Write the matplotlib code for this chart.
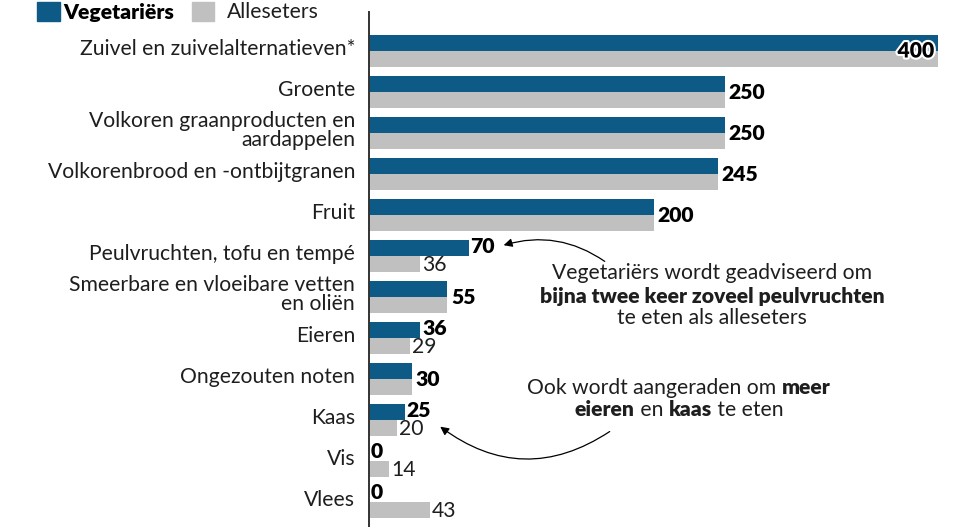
import matplotlib.pyplot as plt
import matplotlib.patheffects as pe
from matplotlib.patches import FancyArrowPatch

plt.rcParams["font.family"] = ["Lato", "DejaVu Sans"]

CATEGORIES = [
    "Zuivel en zuivelalternatieven*",
    "Groente",
    "Volkoren graanproducten en\naardappelen",
    "Volkorenbrood en -ontbijtgranen",
    "Fruit",
    "Peulvruchten, tofu en tempé",
    "Smeerbare en vloeibare vetten\nen oliën",
    "Eieren",
    "Ongezouten noten",
    "Kaas",
    "Vis",
    "Vlees",
]
VEGETARIERS = [400, 250, 250, 245, 200, 70, 55, 36, 30, 25, 0, 0]
ALLESETERS = [400, 250, 250, 245, 200, 36, 55, 29, 30, 20, 14, 43]

BLUE = "#0d5a86"
GREY = "#c0c0c0"
INK = "#1e1e1e"
FS = 15.2

W, H = 966, 527
fig = plt.figure(figsize=(W / 100, H / 100), dpi=100)
fig.patch.set_facecolor("white")

# axes: left edge at x=369 px, top at y=12 px
ax = fig.add_axes([369 / W, 0, (W - 369) / W, (H - 12) / H])
unit = (938 - 369) / 400  # pixels per value unit
ax.set_xlim(0, (W - 369) / unit)
ax.set_ylim((527 - 51) / 41, (12 - 51) / 41)

bh = 0.4
ys = list(range(len(CATEGORIES)))
ax.barh([y - bh / 2 for y in ys], VEGETARIERS, height=bh, color=BLUE, linewidth=0)
ax.barh([y + bh / 2 for y in ys], ALLESETERS, height=bh, color=GREY, linewidth=0)

for s in ["top", "right", "bottom"]:
    ax.spines[s].set_visible(False)
ax.spines["left"].set_color("#333333")
ax.spines["left"].set_linewidth(1.4)
ax.set_xticks([])
ax.set_yticks([y - 0.1 for y in ys])
ax.set_yticklabels(CATEGORIES, fontsize=FS, color=INK, linespacing=0.92)
ax.tick_params(axis="y", length=0, pad=10)

off = 4 / unit
for y, v, a in zip(ys, VEGETARIERS, ALLESETERS):
    if v == a:
        if v == max(VEGETARIERS):
            ax.text(v - off, y, str(v), ha="right", va="center", fontsize=FS,
                    fontweight="heavy", color="black",
                    path_effects=[pe.withStroke(linewidth=3, foreground="white")])
        else:
            ax.text(v + off, y, str(v), ha="left", va="center", fontsize=FS,
                    fontweight="heavy", color="black")
    else:
        ax.text(v + off * 0.5, y - bh / 2 - 0.02, str(v), ha="left", va="center",
                fontsize=FS, fontweight="heavy", color="black")
        ax.text(a + off * 0.5, y + bh / 2 + 0.02, str(a), ha="left", va="center",
                fontsize=FS, color=INK)


def px(x, y):
    # figure pixel coordinates (origin top-left) to figure fraction
    return x / W, 1 - y / H


def rich_line(parts, cx, cy):
    renderer = fig.canvas.get_renderer()
    texts = []
    for s, bold in parts:
        t = fig.text(0, 0, s, fontsize=FS, color=INK, va="center", ha="left",
                     fontweight="heavy" if bold else "normal")
        texts.append(t)
    widths = [t.get_window_extent(renderer).width for t in texts]
    x = cx - sum(widths) / 2
    for t, w in zip(texts, widths):
        t.set_position(px(x, cy))
        x += w


# legend
fig.patches.append(plt.Rectangle(px(37, 21), 23 / W, 19 / H, color=BLUE,
                                 transform=fig.transFigure, figure=fig))
fig.text(*px(63, 12), "Vegetariërs", fontsize=FS, fontweight="heavy",
         color="black", va="center", ha="left")
fig.patches.append(plt.Rectangle(px(192, 21), 22 / W, 19 / H, color=GREY,
                                 transform=fig.transFigure, figure=fig))
fig.text(*px(227, 12), "Alleseters", fontsize=FS, color=INK, va="center", ha="left")

# annotation 1
rich_line([("Vegetariërs wordt geadviseerd om", False)], 712, 273)
rich_line([("bijna twee keer zoveel peulvruchten", True)], 712, 296)
rich_line([("te eten als alleseters", False)], 712, 318)
fig.patches.append(FancyArrowPatch(px(607, 263), px(501, 246),
                                   transform=fig.transFigure,
                                   connectionstyle="arc3,rad=0.25",
                                   arrowstyle="-|>,head_length=5,head_width=2.5",
                                   color="black", linewidth=0.9))

# annotation 2
rich_line([("Ook wordt aangeraden om ", False), ("meer", True)], 679, 388)
rich_line([("eieren", True), (" en ", False), ("kaas", True), (" te eten", False)], 679, 410)
fig.patches.append(FancyArrowPatch(px(612, 430), px(438, 425),
                                   transform=fig.transFigure,
                                   connectionstyle="arc3,rad=-0.36",
                                   arrowstyle="-|>,head_length=5,head_width=2.5",
                                   color="black", linewidth=0.9))

fig.savefig("out.png", dpi=100, facecolor="white")
